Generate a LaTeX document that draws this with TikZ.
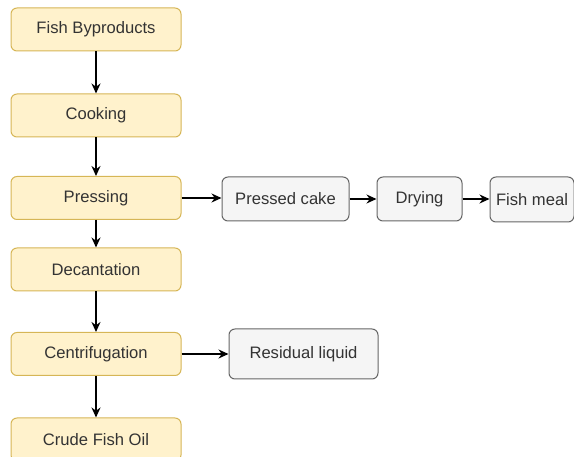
\documentclass[tikz,border=0pt]{standalone}
\usepackage{fontspec}
\setmainfont{Liberation Sans}
\usetikzlibrary{arrows.meta}
\definecolor{yfill}{HTML}{FFF2CC}
\definecolor{ydraw}{HTML}{D6B656}
\definecolor{gfill}{HTML}{F5F5F5}
\definecolor{gdraw}{HTML}{666666}
\definecolor{txt}{HTML}{333333}
\begin{document}
\begin{tikzpicture}[x=1pt,y=-1pt,
  ybox/.style={draw=ydraw,fill=yfill,line width=1pt,rounded corners=6pt,font=\fontsize{16.6}{19}\selectfont,text=txt,inner sep=0pt},
  gbox/.style={draw=gdraw,fill=gfill,line width=1pt,rounded corners=6pt,font=\fontsize{16.6}{19}\selectfont,text=txt,inner sep=0pt},
  conn/.style={line width=1.4pt,-{Stealth[length=10pt,width=9pt]}}]
\useasboundingbox (0,0) rectangle (574,457);
\begin{scope}
\clip (0,0) rectangle (574,457);
\node[ybox,minimum width=170pt,minimum height=43pt] (fb) at (96,29.5) {Fish Byproducts};
\node[ybox,minimum width=170pt,minimum height=43pt] (ck) at (96,115.5) {Cooking};
\node[ybox,minimum width=170pt,minimum height=43pt] (pr) at (96,198) {Pressing};
\node[ybox,minimum width=170pt,minimum height=43pt] (dc) at (96,269.5) {Decantation};
\node[ybox,minimum width=170pt,minimum height=43pt] (cf) at (96,354) {Centrifugation};
\node[ybox,minimum width=170pt,minimum height=43pt] (co) at (96,439.5) {Crude Fish Oil};
\node[gbox,minimum width=127pt,minimum height=44pt] (pc) at (285.5,199) {Pressed cake};
\node[gbox,minimum width=85pt,minimum height=44pt] (dr) at (419.5,199) {Drying};
\node[gbox,minimum width=84pt,minimum height=45pt] (fm) at (532,199.5) {Fish meal};
\node[gbox,minimum width=149pt,minimum height=50pt] (rl) at (303.5,354) {Residual liquid};
\draw[conn] (fb) -- (ck);
\draw[conn] (ck) -- (pr);
\draw[conn] (pr) -- (dc);
\draw[conn] (dc) -- (cf);
\draw[conn] (cf) -- (co);
\draw[conn] (pr.east) -- (pc.west |- pr.east);
\draw[conn] (pc) -- (dr);
\draw[conn] (dr) -- (fm.west |- dr.east);
\draw[conn] (cf.east) -- (rl.west |- cf.east);
\end{scope}
\end{tikzpicture}
\end{document}
